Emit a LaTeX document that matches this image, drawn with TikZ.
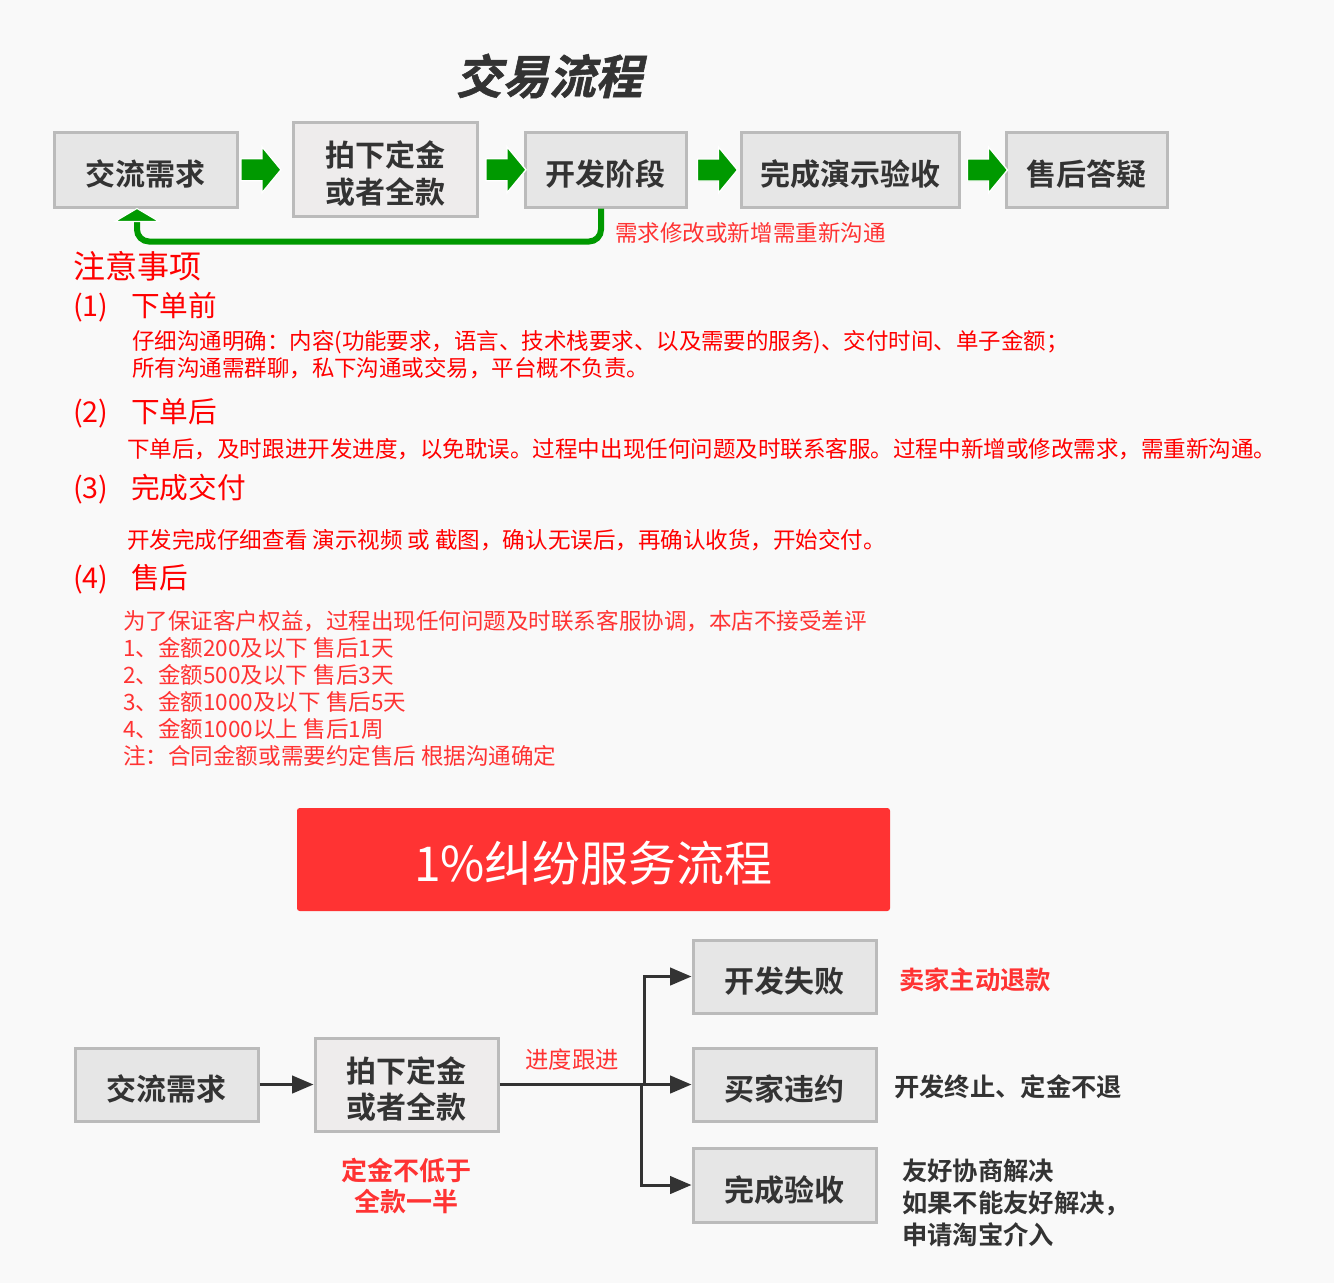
\documentclass[tikz,border=0pt]{standalone}
\usepackage{fontspec}
\usetikzlibrary{arrows.meta,calc}
\setmainfont{Noto Sans CJK SC}[BoldFont={* Bold}]
\newfontfamily\titlefont{Noto Sans CJK SC Bold}[FakeSlant=0.22,FakeBold=1.2]
\definecolor{bg}{HTML}{F9F9F9}
\definecolor{boxfill}{HTML}{E6E6E6}
\definecolor{boxfillb}{HTML}{EEECEC}
\definecolor{boxline}{HTML}{BBBBBB}
\definecolor{txt}{HTML}{333333}
\definecolor{grn}{HTML}{009900}
\definecolor{redA}{HTML}{FF0000}
\definecolor{redB}{HTML}{FF3333}
\newcommand\fs[2]{\fontsize{#1}{#2}\selectfont}
\newcommand\bxt[1]{\raisebox{-6.5pt}[\height][\depth]{\begin{tabular}{@{}c@{}}#1\end{tabular}}}
\begin{document}
\begin{tikzpicture}[x=0.75pt,y=-0.75pt,
  box/.style={draw=boxline, fill=boxfill, line width=2.25pt, text=txt,
    inner sep=0pt, font=\bfseries\fs{22.5}{27}},
  conn/.style={draw=txt, line width=2.25pt, -{Triangle[length=16pt,width=13pt]}},
  note/.style={anchor=west, inner sep=0pt, align=left},
  garrowst/.style={fill=grn, draw=white, line width=1pt}]
\fill[bg] (0,0) rectangle (1334,1283);
\useasboundingbox (0,0) rectangle (1334,1283);

% title
\node[text=txt, font=\titlefont\fs{35}{40}] (title) at (549,76) {交易流程};

% top flow
\node[box, minimum width=183*0.75pt, minimum height=75*0.75pt] (t1) at (145.5,169.5) {\bxt{交流需求}};
\node[box, fill=boxfillb, minimum width=184*0.75pt, minimum height=94*0.75pt] (t2) at (385,169) {\bxt{拍下定金\\或者全款}};
\node[box, minimum width=161*0.75pt, minimum height=75*0.75pt] (t3) at (605.5,169.5) {\bxt{开发阶段}};
\node[box, minimum width=218*0.75pt, minimum height=75*0.75pt] (t4) at (850,169.5) {\bxt{完成演示验收}};
\node[box, minimum width=161*0.75pt, minimum height=75*0.75pt] (t5) at (1086.5,169.5) {\bxt{售后答疑}};

\foreach \a/\b/\d in {t1/t2/-4, t2/t3/5, t3/t4/4, t4/t5/5}{
  \coordinate (c) at ($(\a.east)!0.5!(\b.west)+(\d,0.5)$);
  \draw[garrowst] ($(c)+(-20,-11)$) -- ++(21,0) -- ++(0,-12) -- ++(19,23) -- ++(-19,23) -- ++(0,-12) -- ++(-21,0) -- cycle;
}

% return connector
\draw[grn, line width=4.5pt, rounded corners=9pt] ($(t3.south)+(-4.5,0)$) |- ($(t1.south)+(-8.5,33)$) -- ($(t1.south)+(-8.5,12)$);
\filldraw[fill=grn, draw=white, line width=0.8pt] ($(t1.south)+(-8.5,0)$) -- ++(22,13) -- ++(-44,0) -- cycle;
\node[anchor=west, inner sep=0pt, text=redB, font=\fs{16.9}{20}] (lab) at (615,233) {需求修改或新增需重新沟通};

% notes
\node[note, text=redA, font=\fs{24}{28}] (n0) at (73,266) {注意事项};
\node[note, text=redA, font=\fs{21.5}{26}] (h1) at (73,307) {\makebox[43.5pt][l]{(1)}下单前};
\node[note, text=redA, font=\fs{16.85}{20.25}] (p1) at (132,355) {仔细沟通明确：内容(功能要求，语言、技术栈要求、以及需要的服务)、交付时间、单子金额；\\所有沟通需群聊，私下沟通或交易，平台概不负责。};
\node[note, text=redA, font=\fs{21.5}{26}] (h2) at (73,413) {\makebox[43.5pt][l]{(2)}下单后};
\node[note, text=redA, font=\fs{16.9}{20}] (p2) at (127,449) {下单后，及时跟进开发进度，以免耽误。过程中出现任何问题及时联系客服。过程中新增或修改需求，需重新沟通。};
\node[note, text=redA, font=\fs{21.5}{26}] (h3) at (73,489) {\makebox[43.5pt][l]{(3)}完成交付};
\node[note, text=redA, font=\fs{16.9}{20}] (p3) at (127,540) {开发完成仔细查看 演示视频 或 截图，确认无误后，再确认收货，开始交付。};
\node[note, text=redA, font=\fs{21.5}{26}] (h4) at (73,579) {\makebox[43.5pt][l]{(4)}售后};
\node[note, text=redB, font=\fs{16.9}{20.25}] (p4) at (123,688) {为了保证客户权益，过程出现任何问题及时联系客服协调，本店不接受差评\\1、金额200及以下 售后1天\\2、金额500及以下 售后3天\\3、金额1000及以下 售后5天\\4、金额1000以上 售后1周\\注：合同金额或需要约定售后 根据沟通确定};

% banner
\node[fill=redB, rounded corners=2pt, minimum width=593*0.75pt, minimum height=103*0.75pt,
  text=white, font=\fs{36}{40}, inner sep=0pt] (ban) at (593.5,859.5) {\raisebox{-3pt}[\height][\depth]{1\%纠纷服务流程}};

% bottom flow
\node[box, minimum width=183*0.75pt, minimum height=73*0.75pt] (b1) at (166.5,1084.5) {\bxt{交流需求}};
\node[box, fill=boxfillb, minimum width=183*0.75pt, minimum height=93*0.75pt] (b2) at (406.5,1084.5) {\bxt{拍下定金\\或者全款}};
\node[box, minimum width=183*0.75pt, minimum height=73*0.75pt] (b3) at (784.5,976.5) {\bxt{开发失败}};
\node[box, minimum width=183*0.75pt, minimum height=73*0.75pt] (b4) at (784.5,1084.5) {\bxt{买家违约}};
\node[box, minimum width=183*0.75pt, minimum height=74*0.75pt] (b5) at (784.5,1185) {\bxt{完成验收}};

\draw[conn] (b1) -- (b2);
\draw[conn] (b2.east) -- (b4.west);
\draw[conn] ($(b2.east)+(145,0)$) |- (b3.west);
\draw[conn] ($(b2.east)+(142,0)$) |- (b5.west);

\node[text=redB, font=\fs{17.5}{20}] (jd) at (572,1060) {进度跟进};
\node[text=redB, align=center, font=\bfseries\fs{19.5}{23.25}] (dj) at (406,1186) {定金不低于\\全款一半};
\node[note, text=redB, font=\bfseries\fs{19}{24}] (r1) at (899,980) {卖家主动退款};
\node[note, text=txt, font=\bfseries\fs{19}{24}] (r2) at (894,1087) {开发终止、定金不退};
\node[note, text=txt, font=\bfseries\fs{19}{24}] (r3) at (902,1203) {友好协商解决\\如果不能友好解决，\\申请淘宝介入};
\end{tikzpicture}
\end{document}
